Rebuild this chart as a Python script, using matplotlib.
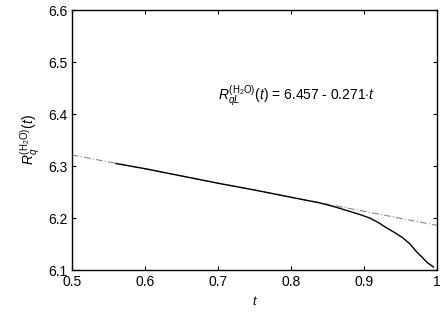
import numpy as np
import matplotlib.pyplot as plt

plt.rcParams['font.family'] = ['Liberation Sans', 'DejaVu Sans']
plt.rcParams['mathtext.fontset'] = 'custom'
plt.rcParams['mathtext.rm'] = 'Liberation Sans'
plt.rcParams['mathtext.it'] = 'Liberation Sans:italic'

# fitted line R = a - b*t
fit_a = 6.457
fit_b = 0.271
fit_t = [0.5, 1.0]

# data curve
t_data = [0.56, 0.6, 0.65, 0.7, 0.75, 0.8, 0.84, 0.86, 0.88, 0.895, 0.908,
          0.92, 0.931, 0.942, 0.953, 0.963, 0.972, 0.98, 0.986, 0.991, 0.995]
r_data = [6.305, 6.295, 6.281, 6.267, 6.254, 6.240, 6.229, 6.2215, 6.213,
          6.2065, 6.200, 6.191, 6.181, 6.172, 6.162, 6.150, 6.135, 6.124,
          6.115, 6.110, 6.106]

fig = plt.figure(figsize=(4.42, 3.13), dpi=100)
ax1 = fig.add_axes([0.163, 0.137, 0.826, 0.831])

ft = np.array(fit_t)
ax1.plot(ft, fit_a - fit_b * ft, color='#888888', linestyle=(0, (6, 2, 1, 2)),
         linewidth=0.8)
ax1.plot(t_data, r_data, color='black', linewidth=1.0)

ax1.set_xlim(0.5, 1.0)
ax1.set_ylim(6.1, 6.6)
ax1.set_xticks([0.5, 0.6, 0.7, 0.8, 0.9, 1.0])
ax1.set_xticklabels(['0.5', '0.6', '0.7', '0.8', '0.9', '1'])
ax1.set_yticks([6.1, 6.2, 6.3, 6.4, 6.5, 6.6])
ax1.tick_params(direction='in', top=True, right=True, labelsize=10, length=3)
for s in ax1.spines.values():
    s.set_linewidth(1.0)

ax1.set_xlabel(r'$t$', fontsize=9)
ax1.set_ylabel(r'$R_q^{(\mathrm{H_2O})}(t)$', fontsize=10)
ax1.text(0.70, 6.433, r'$R_{qL}^{(\mathrm{H_2O})}(t)$ = 6.457 - 0.271$\cdot t$',
         fontsize=10, va='center')

plt.savefig('out.png')
